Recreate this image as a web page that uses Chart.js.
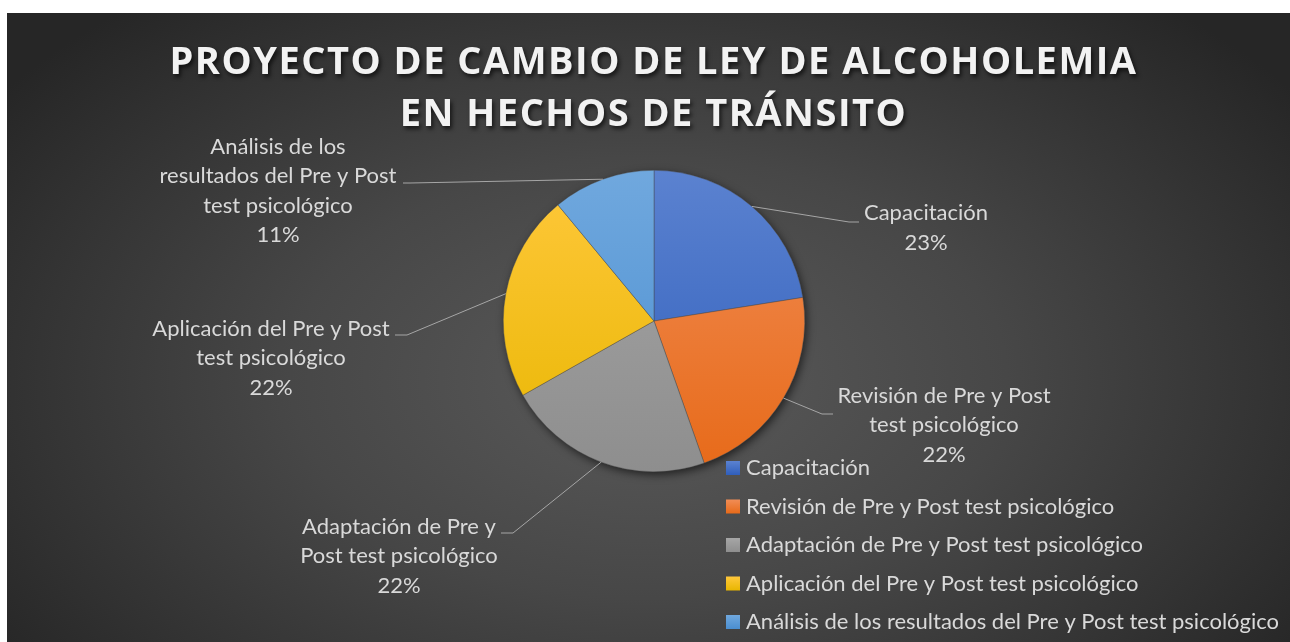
<!DOCTYPE html>
<html>
<head>
<meta charset="utf-8">
<script src="https://cdn.jsdelivr.net/npm/chart.js@4/dist/chart.umd.min.js"></script>
<style>
html, body { margin: 0; padding: 0; background: #fff; }
#wrap {
    position: absolute; left: 7px; top: 13px; width: 1283px; height: 629px; overflow: hidden;
    background: radial-gradient(ellipse 62% 78% at 50% 58%, #5a5a5a 0%, #474747 45%, #262626 100%);
}
#title {
    position: absolute; left: 5px; top: 20px; width: 100%; text-align: center;
    color: #f2f2f2; font: bold 38px "Open Sans", sans-serif; line-height: 52px;
    letter-spacing: 1.5px; text-shadow: 2px 3px 4px rgba(0,0,0,0.65);
}
canvas { position: absolute; left: 0; top: 0; }
</style>
</head>
<body>
<div id="wrap">
    <canvas id="pie" width="1283" height="629"></canvas>
    <div id="title">PROYECTO DE CAMBIO DE LEY DE ALCOHOLEMIA<br>EN HECHOS DE TRÁNSITO</div>
</div>
<script>
const CATEGORIES = [
    'Capacitación',
    'Revisión de Pre y Post test psicológico',
    'Adaptación de Pre y Post test psicológico',
    'Aplicación del Pre y Post test psicológico',
    'Análisis de los resultados del Pre y Post test psicológico'
];
const VALUES = [22.5, 22.1, 22.2, 22.2, 11.0];
// how the data labels wrap in the picture
const LABEL_LINES = [
    ['Capacitación'],
    ['Revisión de Pre y Post', 'test psicológico'],
    ['Adaptación de Pre y', 'Post test psicológico'],
    ['Aplicación del Pre y Post', 'test psicológico'],
    ['Análisis de los', 'resultados del Pre y Post', 'test psicológico']
];

const COLORS = {
    top:    ['#5b82d0', '#f18d56', '#a6a6a6', '#ffc83c', '#70a8de'],
    bottom: ['#2f5ebb', '#e76a19', '#8e8e8e', '#e8b600', '#4a8ed0']
};

// label placement, relative to the pie centre: elbow / end of leader line, text centre
const LABEL_POS = [
    { elbow: [195, -99], end: [205, -99], text: [272, -93] },
    { elbow: [168, 93], end: [179, 93], text: [290, 104] },
    { elbow: [-141, 212], end: [-153, 212], text: [-255, 235] },
    { elbow: [-247, 14], end: [-259, 14], text: [-383, 37] },
    { elbow: [-244, -138], end: [-251, -138], text: [-376, -130] }
];

const FONT = '22px Lato, "Open Sans", sans-serif';
const TEXT_COLOR = '#d9d9d9';
const LINE_H = 29.5;

function vGradient(ctx, i, y0, y1) {
    const g = ctx.createLinearGradient(0, y0, 0, y1);
    g.addColorStop(0, COLORS.top[i]);
    g.addColorStop(1, COLORS.bottom[i]);
    return g;
}

const pieShadow = {
    id: 'pieShadow',
    beforeDatasetsDraw(chart) {
        const a = chart.getDatasetMeta(0).data[0];
        if (!a) return;
        const ctx = chart.ctx;
        ctx.save();
        ctx.shadowColor = 'rgba(0,0,0,0.6)';
        ctx.shadowBlur = 9;
        ctx.shadowOffsetX = 2;
        ctx.shadowOffsetY = 3;
        ctx.beginPath();
        ctx.arc(a.x, a.y, a.outerRadius, 0, Math.PI * 2);
        ctx.fillStyle = '#666';
        ctx.fill();
        ctx.restore();
    }
};

const pieLabels = {
    id: 'pieLabels',
    afterDatasetsDraw(chart) {
        const ctx = chart.ctx;
        const data = chart.data.datasets[0].data;
        const sum = data.reduce((a, b) => a + b, 0);
        chart.getDatasetMeta(0).data.forEach(function (arc, i) {
            const mid = (arc.startAngle + arc.endAngle) / 2;
            const p = LABEL_POS[i];
            const sx = arc.x + Math.cos(mid) * arc.outerRadius;
            const sy = arc.y + Math.sin(mid) * arc.outerRadius;
            ctx.save();
            ctx.strokeStyle = '#a6a6a6';
            ctx.lineWidth = 1;
            ctx.beginPath();
            ctx.moveTo(sx, sy);
            ctx.lineTo(arc.x + p.elbow[0], arc.y + p.elbow[1]);
            ctx.lineTo(arc.x + p.end[0], arc.y + p.end[1]);
            ctx.stroke();

            const lines = LABEL_LINES[i].concat([Math.round(data[i] * 100 / sum) + '%']);
            ctx.font = FONT;
            ctx.fillStyle = TEXT_COLOR;
            ctx.textAlign = 'center';
            ctx.textBaseline = 'middle';
            const top = arc.y + p.text[1] - (lines.length - 1) * LINE_H / 2;
            lines.forEach(function (t, k) {
                ctx.fillText(t, arc.x + p.text[0], top + k * LINE_H);
            });
            ctx.restore();
        });
    }
};

const sideLegend = {
    id: 'sideLegend',
    afterDraw(chart) {
        const ctx = chart.ctx;
        const x0 = 719, y0 = 455, step = 38.5, box = 14;
        ctx.save();
        ctx.font = FONT;
        ctx.textBaseline = 'middle';
        ctx.textAlign = 'left';
        chart.data.labels.forEach(function (label, i) {
            const y = y0 + i * step;
            ctx.fillStyle = vGradient(ctx, i, y - box / 2, y + box / 2);
            ctx.fillRect(x0, y - box / 2, box, box);
            ctx.fillStyle = TEXT_COLOR;
            ctx.fillText(label, x0 + 20, y);
        });
        ctx.restore();
    }
};

const data = {
    labels: CATEGORIES,
    datasets: [{
        data: VALUES,
        backgroundColor: function (context) {
            const area = context.chart.chartArea;
            if (!area) return COLORS.top[context.dataIndex];
            return vGradient(context.chart.ctx, context.dataIndex, area.top, area.bottom);
        },
        borderColor: 'rgba(70,70,70,0.7)',
        borderWidth: 0.6
    }]
};

const options = {
    responsive: false,
    animation: false,
    layout: {
        padding: { left: 496, right: 485, top: 157, bottom: 170 }
    },
    plugins: {
        legend: { display: false },
        title: { display: false },
        tooltip: { enabled: false }
    }
};

const pieChart = new Chart(document.getElementById('pie'), {
    type: 'pie',
    data: data,
    options: options,
    plugins: [pieShadow, pieLabels, sideLegend]
});
</script>
</body>
</html>
